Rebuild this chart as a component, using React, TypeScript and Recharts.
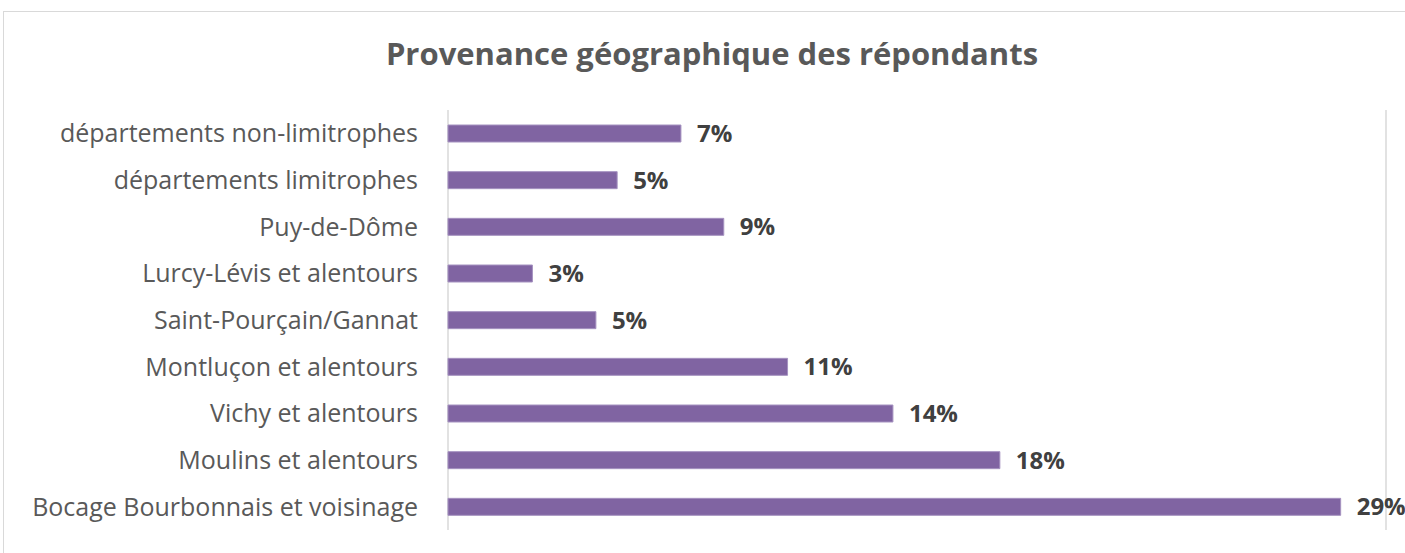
import { BarChart, Bar, XAxis, YAxis, CartesianGrid, LabelList } from 'recharts'

const categories = [
  'départements non-limitrophes',
  'départements limitrophes',
  'Puy-de-Dôme',
  'Lurcy-Lévis et alentours',
  'Saint-Pourçain/Gannat',
  'Montluçon et alentours',
  'Vichy et alentours',
  'Moulins et alentours',
  'Bocage Bourbonnais et voisinage',
]

const shares = [7.45, 5.41, 8.82, 2.7, 4.73, 10.86, 14.23, 17.65, 28.55]

const xTicks = [0, 5, 10, 15, 20, 25, 30]

const data = categories.map((name, i) => ({ name, value: shares[i] }))

const font = '"Open Sans", "Noto Sans", sans-serif'

export default function App() {
  return (
    <div
      style={{
        position: 'absolute',
        left: 0,
        top: 0,
        width: 1405,
        height: 553,
        overflow: 'hidden',
        background: '#fff',
        fontFamily: font,
      }}
    >
      <div
        style={{
          position: 'absolute',
          left: 3,
          top: 11,
          width: 1418,
          height: 560,
          border: '1px solid #d9d9d9',
        }}
      />
      <div
        style={{
          position: 'absolute',
          left: 3,
          top: 32,
          width: 1418,
          textAlign: 'center',
          fontSize: 31,
          lineHeight: 'normal',
          fontWeight: 700,
          color: '#595959',
        }}
      >
        Provenance géographique des répondants
      </div>
      <div style={{ position: 'absolute', left: 0, top: 0 }}>
        <BarChart
          width={1405}
          height={553}
          data={data}
          layout="vertical"
          margin={{ top: 110, right: 19, bottom: 23, left: 0 }}
        >
          <CartesianGrid horizontal={false} stroke="#d9d9d9" strokeWidth={1.5} />
          <XAxis
            type="number"
            domain={[0, 30]}
            ticks={xTicks}
            height={0}
            tick={false}
            tickLine={false}
            axisLine={false}
          />
          <YAxis
            type="category"
            dataKey="name"
            width={448}
            tickLine={false}
            axisLine={false}
            tickMargin={24}
            tick={{ fill: '#595959', fontSize: 25, fontFamily: font }}
            interval={0}
          />
          <Bar dataKey="value" fill="#8064A2" stroke="#a592c0" strokeWidth={1} barSize={17} isAnimationActive={false}>
            <LabelList
              dataKey="value"
              position="right"
              offset={16}
              formatter={(v: number) => `${Math.round(v)}%`}
              style={{ fill: '#404040', fontSize: 24, fontWeight: 700, fontFamily: font }}
            />
          </Bar>
        </BarChart>
      </div>
    </div>
  )
}
